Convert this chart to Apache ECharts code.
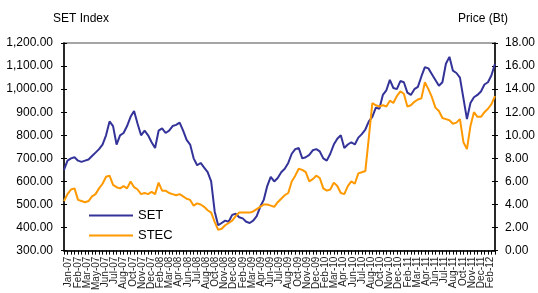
<!DOCTYPE html>
<html>
<head>
<meta charset="utf-8">
<script src="https://cdn.jsdelivr.net/npm/echarts@6/dist/echarts.min.js"></script>
<style>
  html, body { margin: 0; padding: 0; background: #fff; }
  #chart { width: 538px; height: 293px; }
</style>
</head>
<body>
<div id="chart"></div>
<script>
// tick labels shown under the axis (Excel skipped some months)
var tickLabels = ['Jan-07','Feb-07','Mar-07','May-07','Jun-07','Jul-07','Aug-07','Oct-07','Nov-07','Dec-07',
  'Feb-08','Mar-08','Apr-08','Jun-08','Jul-08','Aug-08','Oct-08','Nov-08','Dec-08',
  'Feb-09','Mar-09','Apr-09','Jun-09','Jul-09','Aug-09','Oct-09','Nov-09','Dec-09',
  'Feb-10','Mar-10','Apr-10','Jun-10','Jul-10','Aug-10','Oct-10','Nov-10','Dec-10',
  'Feb-11','Mar-11','Apr-11','Jun-11','Jul-11','Aug-11','Oct-11','Nov-11','Dec-11',
  'Feb-12'];

// half-month samples, Jan-07 .. Feb-12
var monthNames = ['Jan','Feb','Mar','Apr','May','Jun','Jul','Aug','Sep','Oct','Nov','Dec'];
var years = ['07','08','09','10','11','12'];

// SET index (left axis)
var setIndex = [650,690,700,705,690,685,690,695,710,725,740,760,800,860,840,760,800,810,840,880,
  905,850,800,820,800,770,745,820,830,810,820,840,845,855,820,780,760,700,670,680,660,640,
  600,470,410,420,430,425,455,460,445,440,425,420,430,450,490,520,580,620,600,615,640,655,680,720,
  740,745,700,705,715,735,740,730,700,690,720,760,785,800,745,760,770,
  760,790,805,825,860,880,920,915,975,995,1040,1005,1000,1035,1030,985,975,1000,1010,1055,
  1095,1090,1065,1040,1015,1030,1110,1140,1080,1070,1050,960,870,940,965,975,990,1020,1030,1060,1110];

// STEC price in Baht (right axis)
var stecPrice = [4.3,4.9,5.3,5.4,4.4,4.3,4.2,4.3,4.7,4.9,5.4,5.8,6.4,6.5,5.7,5.5,5.4,5.6,5.4,6.0,
  5.5,5.3,4.9,5.0,4.9,5.1,4.9,5.9,5.2,5.2,5.0,4.9,4.8,4.9,4.7,4.5,4.4,3.9,4.1,4.0,3.8,3.5,
  3.3,2.5,1.8,1.9,2.2,2.4,2.6,3.0,3.3,3.3,3.3,3.3,3.4,3.6,3.8,4.0,4.0,3.9,3.8,4.2,
  4.5,4.8,5.0,6.0,6.5,7.1,7.0,6.8,6.0,6.2,6.5,6.3,5.4,5.2,5.3,5.9,5.6,5.0,4.9,5.6,6.0,
  5.8,6.7,6.8,6.9,9.8,12.8,12.6,12.5,12.6,12.5,13.0,12.8,13.4,13.8,13.6,12.5,12.6,12.9,13.1,13.2,
  14.6,14.0,13.3,12.4,12.1,11.5,11.4,11.3,11.0,11.1,11.4,9.4,8.8,10.8,12.0,11.6,11.6,12.0,12.3,12.7,13.4];

var periods = [];
for (var y = 0; y < years.length; y++) {
  for (var m = 0; m < 12; m++) {
    if (periods.length >= setIndex.length) break;
    periods.push(monthNames[m] + '-' + years[y] + ' a');
    periods.push(monthNames[m] + '-' + years[y] + ' b');
  }
}

var font = 'Liberation Sans, Arial, sans-serif';
var myChart = echarts.init(document.getElementById('chart'));

myChart.setOption({
  animation: false,
  title: [
    { text: 'SET Index', left: 48, top: 8, textStyle: { fontSize: 12, fontWeight: 'normal', color: '#000', fontFamily: font } },
    { text: 'Price (Bt)', right: 25, top: 8, textStyle: { fontSize: 12, fontWeight: 'normal', color: '#000', fontFamily: font } }
  ],
  legend: {
    orient: 'vertical',
    left: 84,
    top: 204,
    icon: 'rect',
    itemWidth: 44,
    itemHeight: 2,
    itemGap: 7,
    textStyle: { fontSize: 13, color: '#000', fontFamily: font },
    data: ['SET', 'STEC']
  },
  grid: {
    left: 64, right: 40, top: 43, bottom: 42,
    show: true, borderColor: '#888', borderWidth: 1.5
  },
  xAxis: [{
    type: 'category',
    data: periods,
    boundaryGap: false,
    axisLine: { lineStyle: { color: '#000', width: 1.5 } },
    axisTick: { interval: 0, length: 4, lineStyle: { color: '#000' } },
    axisLabel: { show: false },
    splitLine: { show: false }
  }, {
    type: 'category',
    data: tickLabels,
    position: 'bottom',
    boundaryGap: true,
    axisLine: { show: false },
    axisTick: { show: false },
    axisLabel: { interval: 0, rotate: 90, fontSize: 10, margin: 6, color: '#222', fontFamily: font }
  }],
  yAxis: [{
    type: 'value',
    min: 300, max: 1200, interval: 100,
    axisLine: { show: true, lineStyle: { color: '#000', width: 1.5 } },
    axisTick: { show: true, length: 3, lineStyle: { color: '#000' } },
    axisLabel: {
      margin: 11, fontSize: 12, color: '#000', fontFamily: font,
      formatter: function (v) { return v.toLocaleString('en-US', { minimumFractionDigits: 2, maximumFractionDigits: 2 }); }
    },
    splitLine: { show: false }
  }, {
    type: 'value',
    position: 'right',
    min: 0, max: 18, interval: 2,
    axisLine: { show: true, lineStyle: { color: '#000', width: 1.5 } },
    axisTick: { show: true, length: 3, lineStyle: { color: '#000' } },
    axisLabel: {
      margin: 10, fontSize: 12, color: '#000', fontFamily: font,
      formatter: function (v) { return v.toFixed(2); }
    },
    splitLine: { show: false }
  }, {
    // inside half of the cross tick marks
    type: 'value', position: 'left', min: 300, max: 1200, interval: 100,
    axisLine: { show: false }, axisLabel: { show: false }, splitLine: { show: false },
    axisTick: { show: true, inside: true, length: 3, lineStyle: { color: '#000' } }
  }, {
    type: 'value', position: 'right', min: 0, max: 18, interval: 2,
    axisLine: { show: false }, axisLabel: { show: false }, splitLine: { show: false },
    axisTick: { show: true, inside: true, length: 3, lineStyle: { color: '#000' } }
  }],
  series: [{
    name: 'SET',
    type: 'line',
    data: setIndex,
    yAxisIndex: 0,
    symbol: 'none',
    lineStyle: { color: '#333399', width: 2 },
    itemStyle: { color: '#333399' }
  }, {
    name: 'STEC',
    type: 'line',
    data: stecPrice,
    yAxisIndex: 1,
    symbol: 'none',
    lineStyle: { color: '#FF9900', width: 2 },
    itemStyle: { color: '#FF9900' }
  }]
});
</script>
</body>
</html>
